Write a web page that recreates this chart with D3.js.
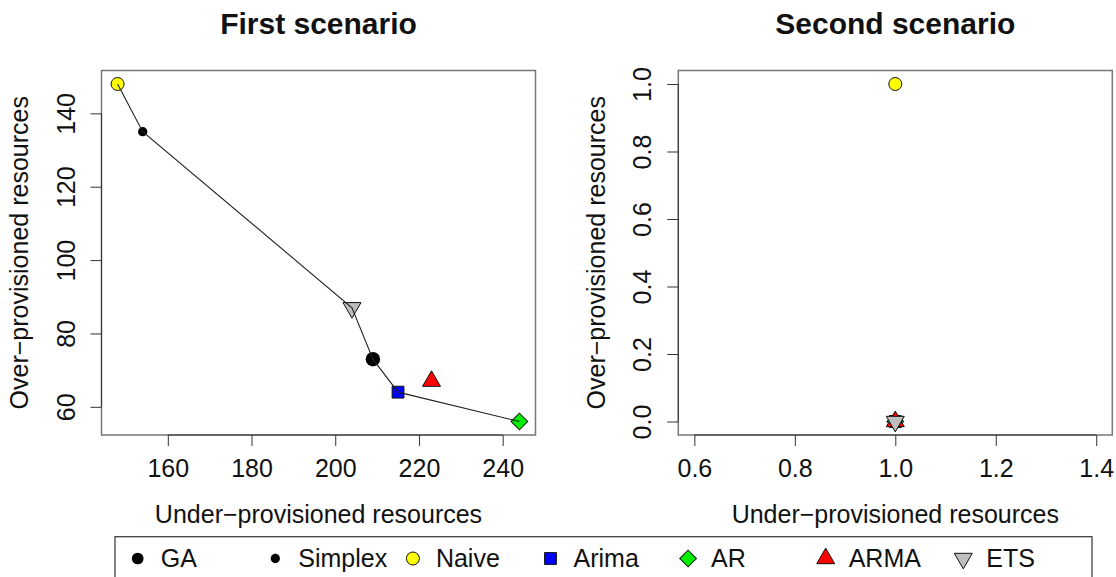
<!DOCTYPE html>
<html>
<head>
<meta charset="utf-8">
<script src="https://cdn.jsdelivr.net/npm/d3@7"></script>
<style>
  body { margin: 0; background: #fff; }
  svg { display: block; font-family: "Liberation Sans", Arial, sans-serif; }
</style>
</head>
<body>
<svg id="chart" width="1116" height="577"></svg>
<script>
// methods, in the order they were plotted
var methods = ["GA", "Simplex", "Naive", "Arima", "AR", "ARMA", "ETS"];
var fills = ["#000000", "#000000", "#ffff00", "#0000ff", "#00ee00", "#ff0000", "#bebebe"];
var shapes = ["dot", "smalldot", "circle", "square", "diamond", "triangleUp", "triangleDown"];

// first scenario
var s1Under = [209, 154, 148, 215, 244, 223, 204];
var s1Over = [73, 135, 148, 64, 56, 67, 87];
var s1Front = ["Naive", "Simplex", "ETS", "GA", "Arima", "AR"];
var s1XTicks = [160, 180, 200, 220, 240];
var s1YTicks = [60, 80, 100, 120, 140];

// second scenario
var s2Under = [1, 1, 1, 1, 1, 1, 1];
var s2Over = [0, 0, 1, 0, 0, 0, 0];
var s2XTicks = [0.6, 0.8, 1.0, 1.2, 1.4];
var s2YTicks = [0, 0.2, 0.4, 0.6, 0.8, 1.0];

var svg = d3.select("#chart");
var top_ = 70.5, bottom = 435;

// R-like extended range (4% each side)
function padded(lo, hi) {
    var d = (hi - lo) * 0.04;
    return [lo - d, hi + d];
}

function markerPath(shape, big) {
    var gen = d3.symbol();
    if (shape == "dot") return gen.type(d3.symbolCircle).size(big ? 165 : 108)();
    if (shape == "smalldot") return gen.type(d3.symbolCircle).size(68)();
    if (shape == "circle") return gen.type(d3.symbolCircle).size(133)();
    if (shape == "square") return gen.type(d3.symbolSquare).size(140)();
    if (shape == "diamond") return gen.type(d3.symbolSquare).size(140)();
    return gen.type(d3.symbolTriangle).size(140)();
}

function markerRotate(shape) {
    if (shape == "diamond") return " rotate(45)";
    if (shape == "triangleDown") return " rotate(180)";
    return "";
}

function drawMarker(g, i, x, y, big) {
    var sh = shapes[i];
    var solid = sh == "dot" || sh == "smalldot";
    g.append("path")
        .attr("d", markerPath(sh, big))
        .attr("transform", "translate(" + x + "," + y + ")" + markerRotate(sh))
        .attr("fill", fills[i])
        .attr("stroke", solid ? "none" : "#111")
        .attr("stroke-width", 1);
}

function panel(opts) {
    var x = d3.scaleLinear().domain(opts.xDom).range([opts.left, opts.right]);
    var y = d3.scaleLinear().domain(opts.yDom).range([bottom, top_]);
    var g = svg.append("g");

    // box
    g.append("rect")
        .attr("x", opts.left).attr("y", top_)
        .attr("width", opts.right - opts.left).attr("height", bottom - top_)
        .attr("fill", "none").attr("stroke", "#777").attr("stroke-width", 1.5);

    // x axis
    var xa = g.append("g").attr("transform", "translate(0," + bottom + ")")
        .call(d3.axisBottom(x).tickValues(opts.xTicks).tickSize(11).tickFormat(opts.xFmt));
    xa.select(".domain").remove();
    xa.selectAll(".tick line").attr("stroke", "#333");
    xa.selectAll(".tick text").attr("y", 42).attr("dy", null)
        .attr("font-size", 25).attr("fill", "#111");
    xa.append("line")
        .attr("x1", x(opts.xTicks[0])).attr("x2", x(opts.xTicks[opts.xTicks.length - 1]))
        .attr("stroke", "#333");

    // y axis
    var ya = g.append("g").attr("transform", "translate(" + opts.left + ",0)")
        .call(d3.axisLeft(y).tickValues(opts.yTicks).tickSize(11).tickFormat(opts.yFmt));
    ya.select(".domain").remove();
    ya.selectAll(".tick line").attr("stroke", "#333");
    ya.selectAll(".tick text")
        .attr("x", null).attr("dy", null)
        .attr("text-anchor", "middle")
        .attr("transform", "translate(-27,0) rotate(-90)")
        .attr("font-size", 25).attr("fill", "#111");
    ya.append("line")
        .attr("y1", y(opts.yTicks[0])).attr("y2", y(opts.yTicks[opts.yTicks.length - 1]))
        .attr("stroke", "#333");

    // titles
    var cx = (opts.left + opts.right) / 2;
    g.append("text").attr("x", cx).attr("y", 34.3)
        .attr("text-anchor", "middle").attr("font-size", 30).attr("font-weight", "bold")
        .attr("fill", "#111").text(opts.title);
    g.append("text").attr("x", cx).attr("y", 523.3)
        .attr("text-anchor", "middle").attr("font-size", 25)
        .attr("fill", "#111").text("Under\u2212provisioned resources");
    g.append("text")
        .attr("transform", "translate(" + (opts.left - 73.5) + "," + ((top_ + bottom) / 2) + ") rotate(-90)")
        .attr("text-anchor", "middle").attr("font-size", 25)
        .attr("fill", "#111").text("Over\u2212provisioned resources");

    // points
    var pts = g.append("g");
    methods.forEach(function (m, i) {
        drawMarker(pts, i, x(opts.under[i]), y(opts.over[i]), true);
    });

    // pareto front line on top
    if (opts.front) {
        var line = d3.line()
            .x(function (m) { return x(opts.under[methods.indexOf(m)]); })
            .y(function (m) { return y(opts.over[methods.indexOf(m)]); });
        g.append("path").datum(opts.front)
            .attr("d", line).attr("fill", "none")
            .attr("stroke", "#222").attr("stroke-width", 1.1);
    }
}

panel({
    left: 101.5, right: 535.5,
    xDom: padded(d3.min(s1Under), d3.max(s1Under)),
    yDom: padded(d3.min(s1Over), d3.max(s1Over)),
    xTicks: s1XTicks, yTicks: s1YTicks,
    xFmt: d3.format("d"), yFmt: d3.format("d"),
    under: s1Under, over: s1Over, front: s1Front,
    title: "First scenario"
});

panel({
    left: 678.3, right: 1112.3,
    xDom: padded(0.6, 1.4),
    yDom: padded(d3.min(s2Over), d3.max(s2Over)),
    xTicks: s2XTicks, yTicks: s2YTicks,
    xFmt: d3.format(".1f"), yFmt: d3.format(".1f"),
    under: s2Under, over: s2Over, front: null,
    title: "Second scenario"
});

// legend
var leg = svg.append("g");
leg.append("rect")
    .attr("x", 115).attr("y", 536.7).attr("width", 977).attr("height", 80)
    .attr("fill", "none").attr("stroke", "#333").attr("stroke-width", 1.2);
var colW = 137.6;
methods.forEach(function (m, i) {
    var mx = 137.7 + i * colW;
    drawMarker(leg, i, mx, 558.5, false);
    leg.append("text").attr("x", mx + 23).attr("y", 567)
        .attr("font-size", 25).attr("fill", "#111").text(m);
});
</script>
</body>
</html>
